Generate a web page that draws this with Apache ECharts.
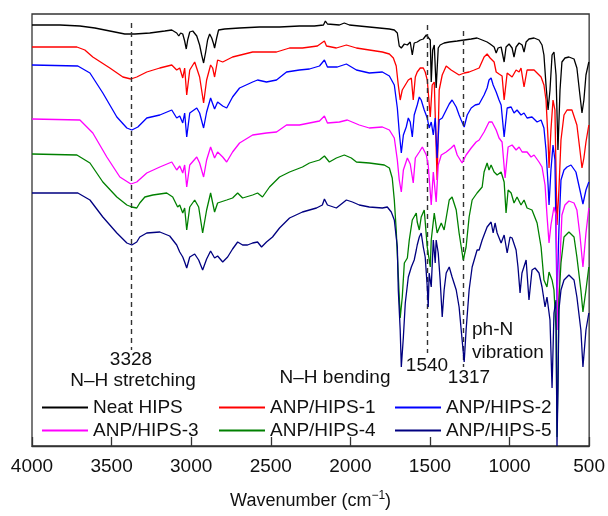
<!DOCTYPE html>
<html>
<head>
<meta charset="utf-8">
<script src="https://cdn.jsdelivr.net/npm/echarts@6/dist/echarts.min.js"></script>
<style>html,body{margin:0;padding:0;background:#fff}#c{width:608px;height:516px}</style>
</head>
<body>
<div id="c"></div>
<script>
// x: wavenumber (cm-1), y: offset transmittance (arbitrary units)
const seriesNames = ['Neat HIPS','ANP/HIPS-1','ANP/HIPS-2','ANP/HIPS-3','ANP/HIPS-4','ANP/HIPS-5'];
const xTicks = [4000,3500,3000,2500,2000,1500,1000,500];

const neatHIPS = [[4000,421],[3824,421],[3699,420],[3605,418],[3511,415],[3417,412],[3354,412],[3260,413],[3166,415],[3122,416],[3091,413],[3078,410],[3066,413],[3053,412],[3041,405],[3031,397],[3022,406],[3009,414],[2990,415],[2965,410],[2947,401],[2934,391],[2922,383],[2909,394],[2897,406],[2884,412],[2871,408],[2859,402],[2853,398],[2840,408],[2828,416],[2790,417],[2696,418],[2571,419],[2445,419],[2320,420],[2226,420],[2169,421],[2157,425],[2144,422],[2069,421],[2038,423],[2006,421],[1944,420],[1881,419],[1818,418],[1755,417],[1724,416],[1705,413],[1693,400],[1680,398],[1661,402],[1642,401],[1624,404],[1611,391],[1599,403],[1580,404],[1561,406],[1542,407],[1523,411],[1511,409],[1498,406],[1492,364],[1483,396],[1473,401],[1461,358],[1448,398],[1436,401],[1411,403],[1379,404],[1329,405],[1285,406],[1241,407],[1204,408],[1172,406],[1141,404],[1122,402],[1097,399],[1084,393],[1072,398],[1053,399],[1034,384],[1022,399],[1003,402],[984,398],[972,389],[959,399],[940,403],[921,401],[909,394],[896,404],[878,407],[846,408],[815,406],[796,401],[784,391],[771,361],[758,336],[746,356],[733,391],[721,394],[708,371],[696,296],[683,356],[671,384],[652,388],[627,389],[595,387],[577,378],[558,351],[545,333],[533,346],[520,371],[502,384]];

const anpHips1 = [[4000,399],[3718,399],[3668,396],[3618,389],[3511,378],[3429,369],[3379,367],[3342,369],[3279,374],[3197,378],[3122,381],[3091,376],[3072,378],[3053,368],[3041,378],[3028,351],[3009,376],[2978,384],[2947,369],[2922,343],[2903,366],[2878,381],[2865,378],[2853,369],[2834,386],[2802,384],[2740,389],[2614,394],[2464,394],[2382,398],[2301,398],[2207,400],[2163,405],[2150,400],[2088,398],[2025,401],[1962,398],[1881,396],[1799,394],[1755,392],[1730,388],[1712,380],[1699,361],[1687,346],[1674,356],[1655,361],[1636,366],[1617,368],[1605,346],[1592,369],[1580,374],[1561,378],[1542,378],[1530,374],[1517,366],[1498,329],[1486,361],[1473,364],[1455,266],[1442,356],[1423,371],[1398,380],[1367,376],[1317,371],[1285,373],[1254,374],[1222,376],[1191,378],[1160,389],[1141,392],[1122,388],[1097,384],[1084,374],[1066,372],[1047,370],[1034,346],[1015,373],[984,369],[959,376],[940,374],[928,378],[909,359],[890,376],[846,376],[802,369],[784,361],[771,346],[758,306],[752,278],[740,316],[727,346],[715,336],[702,221],[690,256],[677,306],[658,331],[639,336],[608,336],[577,321],[558,296],[545,278],[533,288],[520,304],[502,321]];

const anpHips2 = [[4000,381],[3712,380],[3636,373],[3555,353],[3467,329],[3404,318],[3373,316],[3335,319],[3279,328],[3197,331],[3122,336],[3091,328],[3072,330],[3053,323],[3041,333],[3028,309],[3009,333],[2965,338],[2947,333],[2922,318],[2903,334],[2878,348],[2853,337],[2834,344],[2802,340],[2777,338],[2740,349],[2696,358],[2614,364],[2583,366],[2527,364],[2464,366],[2401,374],[2320,376],[2257,377],[2194,380],[2163,386],[2144,379],[2082,379],[2025,382],[1962,376],[1881,373],[1799,374],[1755,370],[1724,361],[1705,338],[1693,314],[1680,293],[1667,311],[1649,319],[1636,328],[1624,324],[1611,309],[1599,331],[1580,341],[1567,349],[1555,346],[1536,336],[1517,328],[1505,318],[1492,324],[1479,311],[1467,328],[1455,288],[1442,326],[1423,328],[1398,336],[1379,342],[1361,346],[1335,339],[1317,331],[1304,326],[1285,319],[1266,331],[1241,338],[1216,341],[1191,342],[1160,351],[1141,358],[1129,366],[1116,368],[1103,361],[1084,354],[1066,346],[1053,341],[1034,309],[1015,338],[990,339],[972,333],[953,336],[928,331],[909,333],[890,328],[859,329],[827,324],[802,326],[784,318],[771,296],[758,261],[752,241],[740,276],[727,301],[715,286],[702,146],[690,216],[677,266],[658,276],[639,279],[614,281],[583,274],[558,256],[539,242],[520,256],[502,264]];

const anpHips3 = [[4000,327],[3699,326],[3618,313],[3530,289],[3448,269],[3379,262],[3342,264],[3279,273],[3197,279],[3122,284],[3091,276],[3072,280],[3053,273],[3041,281],[3028,259],[3009,281],[2965,289],[2947,283],[2922,269],[2903,286],[2878,299],[2853,288],[2834,294],[2802,289],[2777,284],[2740,294],[2696,303],[2614,311],[2527,313],[2464,314],[2401,321],[2320,321],[2257,323],[2194,325],[2163,330],[2144,323],[2069,324],[2019,326],[1944,321],[1881,318],[1799,319],[1755,316],[1724,308],[1705,286],[1693,266],[1680,254],[1667,276],[1642,288],[1624,282],[1605,263],[1592,288],[1567,294],[1548,299],[1523,291],[1511,281],[1492,241],[1479,274],[1461,244],[1448,281],[1429,291],[1398,294],[1367,298],[1348,301],[1329,291],[1298,283],[1273,291],[1241,298],[1210,304],[1191,306],[1160,314],[1129,324],[1110,324],[1084,316],[1066,308],[1047,304],[1028,268],[1009,299],[984,301],[959,296],[940,299],[921,294],[890,294],[865,289],[846,291],[815,284],[796,279],[777,261],[765,231],[752,203],[740,221],[721,239],[708,231],[696,116],[683,186],[671,231],[652,241],[627,245],[595,243],[577,236],[558,211],[539,179],[520,213],[502,238]];

const anpHips4 = [[4000,292],[3718,291],[3636,283],[3555,264],[3467,249],[3404,241],[3373,239],[3342,238],[3323,243],[3291,249],[3241,251],[3154,253],[3116,249],[3085,239],[3072,241],[3053,233],[3041,238],[3028,216],[3009,239],[2978,246],[2953,239],[2928,213],[2903,236],[2878,253],[2853,234],[2834,243],[2777,246],[2740,248],[2708,253],[2677,248],[2614,251],[2583,253],[2552,249],[2508,259],[2445,269],[2382,274],[2301,279],[2257,283],[2194,286],[2163,290],[2132,284],[2088,288],[2038,291],[1994,288],[1962,284],[1881,283],[1787,281],[1755,278],[1737,268],[1724,246],[1712,216],[1699,171],[1687,128],[1674,149],[1661,183],[1642,188],[1630,206],[1611,226],[1586,233],[1580,224],[1567,216],[1555,229],[1536,236],[1517,199],[1498,179],[1492,206],[1473,233],[1455,213],[1429,223],[1411,216],[1379,246],[1361,249],[1335,236],[1317,213],[1291,186],[1273,199],[1254,229],[1235,246],[1204,253],[1172,259],[1160,274],[1141,283],[1129,276],[1116,281],[1097,274],[1078,271],[1053,274],[1034,264],[1022,233],[1009,256],[990,253],[972,243],[953,249],[928,241],[909,246],[890,238],[859,236],[827,223],[802,199],[784,166],[765,159],[752,174],[733,166],[721,156],[708,116],[702,9],[696,66],[690,146],[677,183],[658,209],[627,214],[595,209],[577,189],[552,156],[539,134],[520,156],[502,179]];

const anpHips5 = [[4000,253],[3712,253],[3636,246],[3555,229],[3467,213],[3404,203],[3373,201],[3342,204],[3323,209],[3279,213],[3197,214],[3135,210],[3091,201],[3072,194],[3053,189],[3041,184],[3028,178],[3009,189],[2978,192],[2953,186],[2928,176],[2903,187],[2878,195],[2853,188],[2834,190],[2802,184],[2771,189],[2740,197],[2708,204],[2677,201],[2646,201],[2614,203],[2583,204],[2558,199],[2527,204],[2489,209],[2445,218],[2382,228],[2301,234],[2213,238],[2176,241],[2163,247],[2144,241],[2088,238],[2025,246],[1987,244],[1944,241],[1881,239],[1799,238],[1768,239],[1743,234],[1724,226],[1705,199],[1699,156],[1687,116],[1680,79],[1667,109],[1655,143],[1636,169],[1617,179],[1599,186],[1586,196],[1580,201],[1567,209],[1555,213],[1542,199],[1530,189],[1517,159],[1511,139],[1505,173],[1492,159],[1479,206],[1467,183],[1461,206],[1448,193],[1436,166],[1423,129],[1411,156],[1398,173],[1379,179],[1361,169],[1335,156],[1317,139],[1298,106],[1285,84],[1273,116],[1254,156],[1235,179],[1204,196],[1191,196],[1172,206],[1141,219],[1116,224],[1103,213],[1091,223],[1078,213],[1053,203],[1034,211],[1015,193],[997,209],[984,208],[959,196],[947,179],[934,153],[922,173],[896,186],[878,146],[859,176],[840,178],[815,173],[796,159],[777,139],[765,149],[746,126],[733,58],[721,133],[708,146],[702,0],[696,56],[690,136],[677,156],[658,166],[627,171],[595,166],[577,149],[552,116],[539,79],[520,116],[502,133]];

// dashed reference lines: [wavenumber, top, bottom]
const refLines = [[3379,423,96],[1517,421,93],[1288,415,79]];

const colors = ['#000000','#ff0000','#0000ff','#ff00ff','#008000','#000080'];
const allData = [neatHIPS, anpHips1, anpHips2, anpHips3, anpHips4, anpHips5];

const FONT = '"Liberation Sans", Arial, sans-serif';
const chart = echarts.init(document.getElementById('c'), null, {renderer:'canvas'});

const series = allData.map((d,i)=>({
  name: seriesNames[i], type:'line', data:d, symbol:'none', smooth:false,
  lineStyle:{width:1.3, color:colors[i]}, itemStyle:{color:colors[i]},
  silent:true, animation:false, z: 2+i
}));
series[0].markLine = {
  symbol:'none', silent:true, animation:false,
  lineStyle:{type:[5,4], color:'#333', width:1.4},
  label:{show:false},
  data: refLines.map(r=>[{coord:[r[0],r[1]]},{coord:[r[0],r[2]]}])
};

const legendBase = {orient:'vertical', top:393, itemGap:4, itemWidth:46, itemHeight:2, icon:'rect',
  textStyle:{fontSize:19, fontFamily:FONT, color:'#111'}, selectedMode:false};

const txt = (t,x,y,align)=>({type:'text', x:x, y:y,
  style:{text:t, font:'19px '+FONT, fill:'#111', textAlign:align||'center', textVerticalAlign:'middle'}});

chart.setOption({
  animation:false,
  backgroundColor:'#fff',
  grid:{left:32, top:14, width:558, height:432, show:true, borderColor:'#333', borderWidth:1.3, backgroundColor:'transparent'},
  xAxis:{type:'value', inverse:true, min:500, max:4000, interval:500,
    axisLine:{show:true, lineStyle:{color:'#333', width:1.3}},
    axisTick:{show:true, inside:true, length:9, lineStyle:{color:'#333', width:1.3}},
    axisLabel:{fontSize:19, fontFamily:FONT, color:'#111', margin:11, formatter:(v)=>String(v)},
    splitLine:{show:false},
    name:'{a|Wavenumber (cm}{b|−1}{a|)}', nameLocation:'middle', nameGap:44,
    nameTextStyle:{rich:{a:{fontSize:18, fontFamily:FONT, color:'#111'}, b:{fontSize:12, fontFamily:FONT, color:'#111', verticalAlign:'bottom', padding:[0,0,10,0]}}}
  },
  yAxis:{type:'value', min:0, max:432, show:false},
  legend:[
    Object.assign({}, legendBase, {left:37, data:['Neat HIPS','ANP/HIPS-3']}),
    Object.assign({}, legendBase, {left:214, data:['ANP/HIPS-1','ANP/HIPS-4']}),
    Object.assign({}, legendBase, {left:390, data:['ANP/HIPS-2','ANP/HIPS-5']})
  ],
  graphic:[
    txt('3328',131,360),
    txt('N–H stretching',133,381),
    txt('N–H bending',335,378),
    txt('1540',427,366),
    txt('1317',469,378),
    txt('ph-N',472,330,'left'),
    txt('vibration',472,353,'left')
  ],
  series: series
});
</script>
</body>
</html>
